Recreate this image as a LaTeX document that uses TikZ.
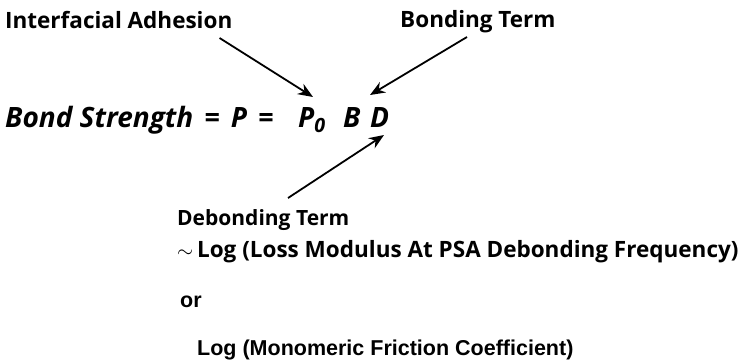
\documentclass[tikz,border=0pt]{standalone}
\usepackage{fontspec}
\setmainfont{Open Sans}
\newfontfamily\helv{Liberation Sans}
\usepackage{tikz}
\usetikzlibrary{positioning, arrows.meta, calc}

\begin{document}
\begin{tikzpicture}[x=1pt, y=-1pt,
    lbl/.style={anchor=base west, inner sep=0pt, font=\fontsize{22.5}{22.5}\selectfont\bfseries},
    eqn/.style={anchor=base west, inner sep=0pt, font=\fontsize{28}{28}\selectfont\bfseries\itshape},
    hlv/.style={anchor=base west, inner sep=0pt, font=\fontsize{21.5}{21.5}\selectfont\helv\bfseries},
    arr/.style={line width=1.8pt, -{Stealth[length=15pt, width=12pt]}}]
    \useasboundingbox (0,0) rectangle (739,362);
    % labels above the equation
    \node[lbl] (adh) at (5,28) {Interfacial Adhesion};
    \node[lbl] (bondt) at (400,27) {Bonding Term};
    % the equation
    \node[eqn] (eq) at (5,127) {Bond Strength\hspace{11pt}=\hspace{11pt}P\hspace{11pt}=};
    \node[eqn] (p0) at (298,127) {P\textsubscript{0}};
    \node[eqn] (bb) at (343,127) {B};
    \node[eqn] (dd) at (370,127) {D};
    % debonding term
    \node[lbl, font=\fontsize{21}{21}\selectfont\bfseries] (debond) at (177,225) {Debonding Term};
    \node[lbl] (loss) at (177,257) {$\sim$\,Log (Loss Modulus At PSA Debonding Frequency)};
    \node[hlv] (or) at (180,307) {or};
    \node[hlv] (mono) at (197,355) {Log (Monomeric Friction Coefficient)};
    % arrows
    \draw[arr] ([shift={(-13,10)}]adh.base east) -- ([shift={(15,-30)}]p0.base west);
    \draw[arr] ([shift={(67,10)}]bondt.base west) -- ([shift={(0,-32)}]dd.base west);
    \draw[arr] ([shift={(111,-27)}]debond.base west) -- ([shift={(14,8)}]dd.base west);
\end{tikzpicture}
\end{document}
